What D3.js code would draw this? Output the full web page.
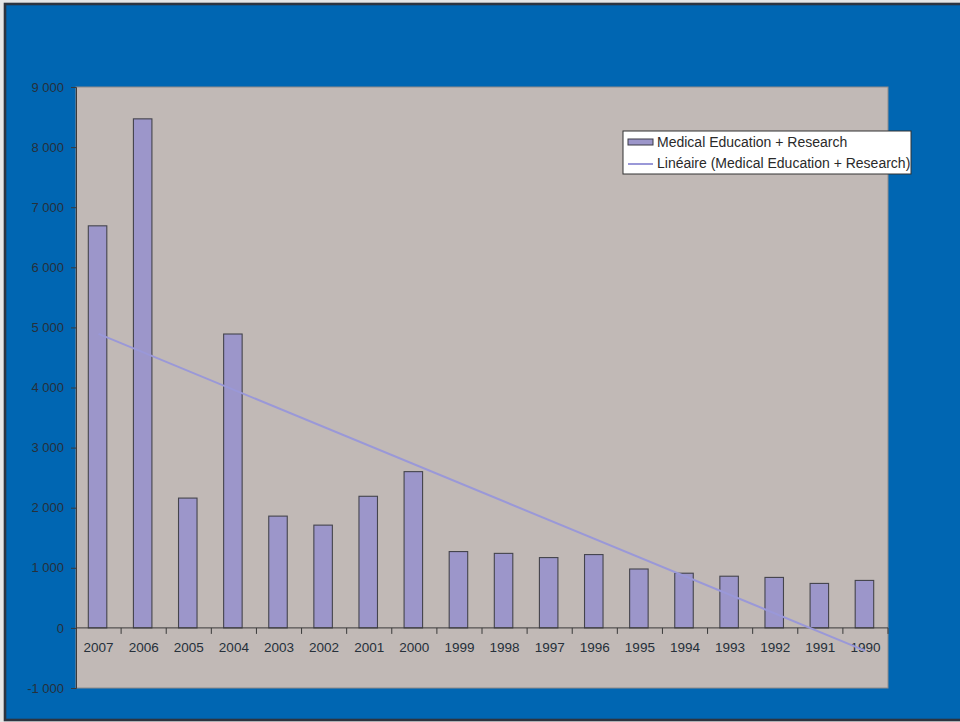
<!DOCTYPE html>
<html>
<head>
<meta charset="utf-8">
<script src="https://cdn.jsdelivr.net/npm/d3@7"></script>
<style>
  html, body { margin: 0; padding: 0; background: #e6e6e6; }
  svg { display: block; }
  text { font-family: "Liberation Sans", Arial, Helvetica, sans-serif; }
</style>
</head>
<body>
<svg id="chart" width="960" height="722"></svg>
<script>
// Yearly totals, most recent year first
const years = ["2007","2006","2005","2004","2003","2002","2001","2000","1999",
               "1998","1997","1996","1995","1994","1993","1992","1991","1990"];
const medicalEducationResearch = [6690, 8470, 2160, 4890, 1860, 1710, 2190, 2600, 1270,
                                  1240, 1170, 1220, 980, 910, 860, 840, 740, 790];
const yTicks = [-1000, 0, 1000, 2000, 3000, 4000, 5000, 6000, 7000, 8000, 9000];
const seriesName = "Medical Education + Research";
const trendName = "Linéaire (Medical Education + Research)";

const svg = d3.select("#chart");
const W = 960, H = 722;
const plot = { left: 76, right: 888, top: 87, bottom: 688 };

// Frame
svg.append("rect")
  .attr("x", 5).attr("y", 4).attr("width", W + 10).attr("height", H - 6)
  .attr("fill", "#0066b2").attr("stroke", "#2c3440").attr("stroke-width", 2.6);

// Plot area
svg.append("rect")
  .attr("x", plot.left).attr("y", plot.top)
  .attr("width", plot.right - plot.left).attr("height", plot.bottom - plot.top)
  .attr("fill", "#c1b9b6").attr("stroke", "#8f8a89").attr("stroke-width", 1);

const x = d3.scaleBand().domain(years).range([plot.left, plot.right]).paddingInner(0).paddingOuter(0);
const y = d3.scaleLinear().domain([-1000, 9000]).range([plot.bottom, plot.top]);

// Thousands separated by a space, plain hyphen for negatives
const fmt = v => d3.format(",")(v).replace(/,/g, " ").replace("\u2212", "-");

// Y axis
const yAxis = svg.append("g")
  .attr("transform", `translate(${plot.left},0)`)
  .call(d3.axisLeft(y).tickValues(yTicks).tickSize(5).tickPadding(7).tickFormat(fmt));
yAxis.select(".domain").attr("stroke", "#3a3a3a");
yAxis.selectAll(".tick line").attr("stroke", "#3a3a3a");
yAxis.selectAll(".tick text")
  .attr("fill", "#26303a").attr("font-size", 13)
  .style("font-family", "'Liberation Sans', Arial, sans-serif");

// Bars
const bw = 18.5;
svg.append("g").selectAll("rect")
  .data(years.map((yr, i) => ({ yr, v: medicalEducationResearch[i] })))
  .join("rect")
  .attr("x", d => x(d.yr) + x.bandwidth() / 2 - bw / 2 - 1)
  .attr("y", d => y(d.v))
  .attr("width", bw)
  .attr("height", d => y(0) - y(d.v))
  .attr("fill", "#9c96ca")
  .attr("stroke", "#44444c").attr("stroke-width", 1.1);

// X axis at zero with ticks between categories
const zeroY = y(0);
svg.append("line")
  .attr("x1", plot.left).attr("x2", plot.right)
  .attr("y1", zeroY).attr("y2", zeroY)
  .attr("stroke", "#3a3a3a").attr("stroke-width", 1);
svg.append("g").selectAll("line")
  .data(years.slice(1).map(yr => x(yr)).concat([plot.right]))
  .join("line")
  .attr("x1", d => d).attr("x2", d => d)
  .attr("y1", zeroY).attr("y2", zeroY + 6)
  .attr("stroke", "#3a3a3a").attr("stroke-width", 1);
svg.append("g").selectAll("text")
  .data(years)
  .join("text")
  .attr("x", d => x(d) + x.bandwidth() / 2)
  .attr("y", zeroY + 24)
  .attr("text-anchor", "middle")
  .attr("font-size", 13.5)
  .attr("fill", "#26303a")
  .text(d => d);

// Linear trend (least squares over category index 1..n)
const n = medicalEducationResearch.length;
const xs = d3.range(1, n + 1);
const mx = d3.mean(xs), my = d3.mean(medicalEducationResearch);
const sxy = d3.sum(xs, (xi, i) => (xi - mx) * (medicalEducationResearch[i] - my));
const sxx = d3.sum(xs, xi => (xi - mx) * (xi - mx));
const slope = sxy / sxx, intercept = my - slope * mx;
const trend = [1, n].map(xi => ({ yr: years[xi - 1], v: intercept + slope * xi }));
svg.append("path")
  .datum(trend)
  .attr("d", d3.line().x(d => x(d.yr) + x.bandwidth() / 2).y(d => y(d.v)))
  .attr("fill", "none").attr("stroke", "#9a98d8").attr("stroke-width", 2);

// Legend
const lg = svg.append("g").attr("transform", "translate(623,131)");
lg.append("rect").attr("width", 288).attr("height", 43)
  .attr("fill", "#ffffff").attr("stroke", "#333333").attr("stroke-width", 1);
lg.append("rect").attr("x", 5).attr("y", 8).attr("width", 25).attr("height", 6)
  .attr("fill", "#9c96ca").attr("stroke", "#3b3b44").attr("stroke-width", 1);
lg.append("line").attr("x1", 5).attr("x2", 30).attr("y1", 33).attr("y2", 33)
  .attr("stroke", "#9a98d8").attr("stroke-width", 2);
lg.append("text").attr("x", 34).attr("y", 16).attr("font-size", 14).attr("fill", "#2a2a2a").text(seriesName);
lg.append("text").attr("x", 34).attr("y", 37).attr("font-size", 14).attr("fill", "#2a2a2a").text(trendName);
</script>
</body>
</html>
